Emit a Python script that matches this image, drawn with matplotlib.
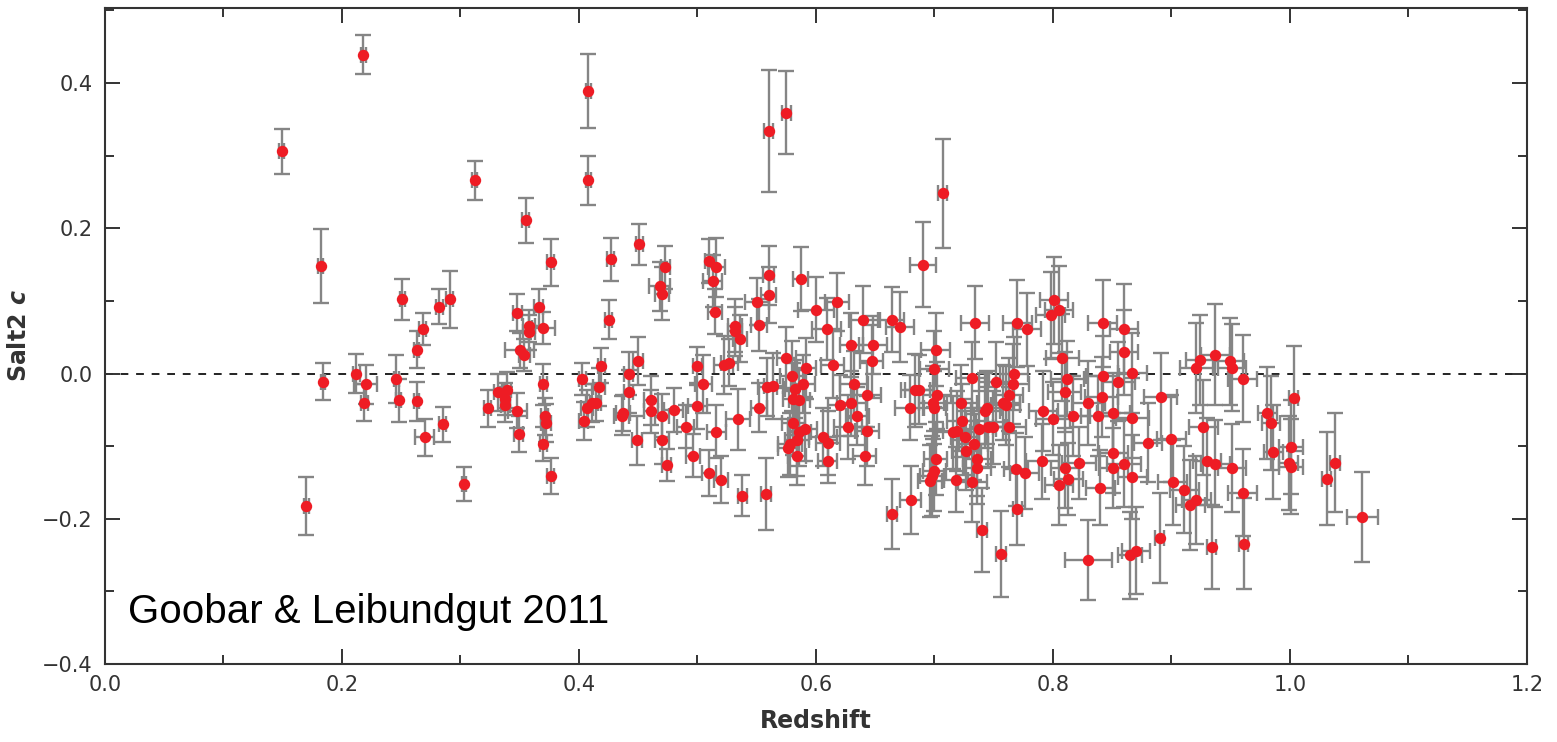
import matplotlib
matplotlib.use("Agg")
import matplotlib.pyplot as plt
from matplotlib.ticker import MultipleLocator, FuncFormatter

# Redshift (z), Salt2 colour (c), and their uncertainties
z = [0.149, 0.170, 0.182, 0.184, 0.212, 0.218, 0.219, 0.220, 0.246, 0.248,
     0.251, 0.263, 0.263, 0.268, 0.270, 0.282, 0.285, 0.291, 0.303, 0.312,
     0.323, 0.332, 0.338, 0.338, 0.339, 0.348, 0.348, 0.349, 0.350, 0.354,
     0.355, 0.358, 0.358, 0.366, 0.370, 0.370, 0.371, 0.372, 0.370, 0.376,
     0.376, 0.403, 0.404, 0.407, 0.408, 0.408, 0.411, 0.414, 0.417, 0.419,
     0.425, 0.427, 0.436, 0.437, 0.442, 0.442, 0.449, 0.450, 0.451, 0.461,
     0.461, 0.468, 0.470, 0.473, 0.470, 0.470, 0.474, 0.480, 0.490, 0.496,
     0.500, 0.500, 0.505, 0.510, 0.513, 0.516, 0.515, 0.516, 0.510, 0.520,
     0.522, 0.527, 0.532, 0.532, 0.536, 0.534, 0.538, 0.550, 0.552, 0.552,
     0.558, 0.559, 0.560, 0.560, 0.560, 0.564, 0.575, 0.575, 0.576, 0.578,
     0.580, 0.581, 0.581, 0.582, 0.584, 0.584, 0.586, 0.586, 0.587, 0.589,
     0.591, 0.592, 0.600, 0.606, 0.609, 0.610, 0.610, 0.614, 0.618, 0.620,
     0.627, 0.630, 0.630, 0.632, 0.635, 0.640, 0.641, 0.643, 0.643, 0.647,
     0.648, 0.664, 0.664, 0.671, 0.679, 0.680, 0.684, 0.687, 0.690, 0.696,
     0.698, 0.699, 0.700, 0.700, 0.700, 0.701, 0.701, 0.702, 0.707, 0.716,
     0.718, 0.719, 0.722, 0.723, 0.726, 0.727, 0.732, 0.733, 0.734, 0.736,
     0.736, 0.732, 0.738, 0.740, 0.743, 0.744, 0.745, 0.749, 0.752, 0.756,
     0.758, 0.760, 0.763, 0.763, 0.766, 0.767, 0.769, 0.770, 0.770, 0.776,
     0.778, 0.791, 0.792, 0.798, 0.800, 0.801, 0.805, 0.805, 0.808, 0.810,
     0.810, 0.812, 0.813, 0.817, 0.822, 0.830, 0.830, 0.838, 0.840, 0.841,
     0.842, 0.842, 0.851, 0.851, 0.851, 0.855, 0.860, 0.860, 0.860, 0.865,
     0.867, 0.867, 0.867, 0.870, 0.880, 0.890, 0.891, 0.900, 0.901, 0.911,
     0.916, 0.921, 0.921, 0.924, 0.927, 0.930, 0.934, 0.937, 0.937, 0.949,
     0.951, 0.951, 0.960, 0.960, 0.961, 0.981, 0.984, 0.986, 0.999, 1.001,
     1.001, 1.003, 1.031, 1.038, 1.061]

c = [0.306, -0.182, 0.148, -0.011, 0.000, 0.439, -0.040, -0.015, -0.007, -0.037,
     0.102, 0.033, -0.038, 0.061, -0.088, 0.092, -0.070, 0.102, -0.152, 0.266,
     -0.048, -0.026, -0.035, -0.043, -0.023, -0.051, 0.084, -0.083, 0.032, 0.026,
     0.211, 0.066, 0.057, 0.091, -0.015, 0.063, -0.059, -0.068, -0.097, -0.141,
     0.153, -0.008, -0.065, -0.048, 0.389, 0.266, -0.041, -0.040, -0.019, 0.011,
     0.074, 0.157, -0.058, -0.054, 0.000, -0.025, -0.092, 0.017, 0.178, -0.037,
     -0.052, 0.120, 0.110, 0.146, -0.058, -0.092, -0.126, -0.050, -0.073, -0.113,
     0.010, -0.045, -0.015, 0.155, 0.127, 0.146, 0.085, -0.080, -0.137, -0.146,
     0.012, 0.015, 0.066, 0.058, 0.048, -0.063, -0.168, 0.099, 0.067, -0.047,
     -0.166, -0.019, 0.334, 0.135, 0.108, -0.017, 0.022, 0.359, -0.102, -0.097,
     -0.003, -0.035, -0.068, -0.021, -0.091, -0.114, -0.037, -0.081, 0.130, -0.015,
     -0.076, 0.007, 0.088, -0.087, 0.061, -0.095, -0.121, 0.012, 0.099, -0.044,
     -0.074, 0.039, -0.041, -0.015, -0.059, 0.074, -0.114, -0.029, -0.079, 0.017,
     0.039, 0.074, -0.193, 0.064, -0.047, -0.174, -0.023, -0.022, 0.150, -0.148,
     -0.141, -0.040, 0.006, -0.047, -0.134, 0.033, -0.117, -0.030, 0.248, -0.081,
     -0.146, -0.079, -0.040, -0.065, -0.087, -0.106, -0.006, -0.097, 0.070, -0.117,
     -0.130, -0.150, -0.076, -0.215, -0.051, -0.047, -0.074, -0.074, -0.012, -0.248,
     -0.040, -0.044, -0.029, -0.074, -0.014, 0.000, -0.132, -0.186, 0.069, -0.137,
     0.061, -0.121, -0.052, 0.080, -0.062, 0.101, 0.088, -0.153, 0.022, -0.026,
     -0.130, -0.007, -0.145, -0.058, -0.123, -0.041, -0.257, -0.059, -0.157, -0.032,
     0.069, -0.004, -0.054, -0.109, -0.130, -0.011, 0.061, 0.029, -0.124, -0.250,
     0.001, -0.061, -0.142, -0.244, -0.095, -0.226, -0.032, -0.090, -0.150, -0.160,
     -0.181, -0.174, 0.008, 0.018, -0.074, -0.121, -0.239, 0.026, -0.124, 0.017,
     0.008, -0.130, -0.007, -0.164, -0.234, -0.054, -0.068, -0.108, -0.123, -0.101,
     -0.128, -0.034, -0.145, -0.123, -0.197]

c_err = [0.031, 0.040, 0.051, 0.025, 0.027, 0.027, 0.025, 0.027, 0.033, 0.030,
         0.028, 0.026, 0.027, 0.022, 0.025, 0.024, 0.024, 0.039, 0.023, 0.027,
         0.025, 0.025, 0.022, 0.024, 0.025, 0.024, 0.026, 0.025, 0.024, 0.022,
         0.031, 0.022, 0.024, 0.025, 0.028, 0.022, 0.025, 0.026, 0.024, 0.025,
         0.032, 0.022, 0.026, 0.025, 0.051, 0.034, 0.026, 0.025, 0.026, 0.024,
         0.027, 0.030, 0.027, 0.025, 0.030, 0.030, 0.034, 0.033, 0.028, 0.034,
         0.030, 0.034, 0.036, 0.030, 0.030, 0.032, 0.022, 0.030, 0.030, 0.030,
         0.026, 0.032, 0.040, 0.030, 0.036, 0.040, 0.031, 0.036, 0.032, 0.032,
         0.040, 0.032, 0.036, 0.034, 0.032, 0.042, 0.028, 0.032, 0.036, 0.034,
         0.050, 0.040, 0.084, 0.041, 0.038, 0.045, 0.042, 0.057, 0.040, 0.042,
         0.048, 0.050, 0.044, 0.040, 0.050, 0.040, 0.042, 0.046, 0.044, 0.040,
         0.044, 0.042, 0.045, 0.040, 0.043, 0.044, 0.030, 0.046, 0.040, 0.042,
         0.044, 0.044, 0.045, 0.046, 0.040, 0.046, 0.040, 0.044, 0.048, 0.050,
         0.040, 0.045, 0.048, 0.048, 0.045, 0.047, 0.050, 0.048, 0.058, 0.050,
         0.055, 0.050, 0.052, 0.050, 0.055, 0.050, 0.050, 0.046, 0.075, 0.050,
         0.045, 0.055, 0.052, 0.050, 0.052, 0.055, 0.050, 0.050, 0.050, 0.052,
         0.050, 0.055, 0.052, 0.058, 0.052, 0.050, 0.055, 0.050, 0.055, 0.059,
         0.052, 0.055, 0.050, 0.055, 0.055, 0.050, 0.050, 0.050, 0.060, 0.050,
         0.050, 0.052, 0.055, 0.060, 0.050, 0.060, 0.060, 0.055, 0.060, 0.055,
         0.055, 0.052, 0.050, 0.055, 0.050, 0.058, 0.055, 0.055, 0.052, 0.055,
         0.060, 0.055, 0.055, 0.055, 0.055, 0.055, 0.062, 0.058, 0.060, 0.060,
         0.055, 0.055, 0.058, 0.060, 0.055, 0.062, 0.060, 0.060, 0.058, 0.060,
         0.062, 0.060, 0.062, 0.062, 0.065, 0.060, 0.058, 0.070, 0.060, 0.060,
         0.060, 0.060, 0.060, 0.060, 0.062, 0.063, 0.065, 0.065, 0.065, 0.065,
         0.065, 0.072, 0.064, 0.068, 0.062]

z_err = [0.002, 0.002, 0.002, 0.002, 0.003, 0.002, 0.003, 0.010, 0.002, 0.002,
         0.002, 0.002, 0.002, 0.003, 0.008, 0.003, 0.003, 0.003, 0.002, 0.002,
         0.003, 0.004, 0.004, 0.004, 0.004, 0.008, 0.004, 0.004, 0.012, 0.005,
         0.003, 0.005, 0.005, 0.004, 0.003, 0.010, 0.003, 0.004, 0.003, 0.003,
         0.003, 0.003, 0.004, 0.005, 0.002, 0.002, 0.005, 0.005, 0.005, 0.003,
         0.003, 0.003, 0.006, 0.006, 0.004, 0.004, 0.004, 0.004, 0.003, 0.006,
         0.006, 0.009, 0.006, 0.004, 0.006, 0.006, 0.004, 0.008, 0.007, 0.006,
         0.004, 0.008, 0.007, 0.004, 0.008, 0.007, 0.006, 0.008, 0.006, 0.006,
         0.008, 0.007, 0.006, 0.006, 0.006, 0.010, 0.004, 0.010, 0.007, 0.007,
         0.004, 0.008, 0.004, 0.005, 0.006, 0.008, 0.008, 0.004, 0.008, 0.010,
         0.010, 0.009, 0.010, 0.008, 0.010, 0.008, 0.009, 0.010, 0.006, 0.010,
         0.010, 0.008, 0.015, 0.012, 0.012, 0.010, 0.008, 0.010, 0.010, 0.010,
         0.012, 0.010, 0.012, 0.012, 0.010, 0.012, 0.010, 0.012, 0.010, 0.010,
         0.012, 0.010, 0.004, 0.012, 0.012, 0.009, 0.012, 0.012, 0.011, 0.010,
         0.010, 0.012, 0.012, 0.010, 0.010, 0.012, 0.010, 0.012, 0.004, 0.014,
         0.010, 0.012, 0.014, 0.012, 0.012, 0.012, 0.014, 0.012, 0.012, 0.012,
         0.012, 0.012, 0.014, 0.004, 0.012, 0.012, 0.014, 0.012, 0.014, 0.004,
         0.014, 0.012, 0.012, 0.014, 0.014, 0.012, 0.010, 0.004, 0.012, 0.012,
         0.012, 0.014, 0.012, 0.012, 0.014, 0.012, 0.012, 0.012, 0.014, 0.014,
         0.012, 0.014, 0.012, 0.014, 0.014, 0.014, 0.020, 0.014, 0.012, 0.014,
         0.012, 0.014, 0.014, 0.012, 0.012, 0.014, 0.012, 0.012, 0.014, 0.010,
         0.012, 0.014, 0.012, 0.012, 0.012, 0.004, 0.014, 0.012, 0.012, 0.012,
         0.012, 0.012, 0.014, 0.012, 0.012, 0.012, 0.004, 0.012, 0.012, 0.012,
         0.012, 0.012, 0.012, 0.012, 0.004, 0.008, 0.008, 0.008, 0.008, 0.010,
         0.010, 0.004, 0.004, 0.004, 0.013]

x_ticks = [0.0, 0.2, 0.4, 0.6, 0.8, 1.0, 1.2]
y_ticks = [-0.4, -0.2, 0.0, 0.2, 0.4]
credit = "Goobar & Leibundgut 2011"


def fmt(v, pos):
    s = f"{v:.1f}"
    return s.replace("-", "\u2212")


fig = plt.figure(figsize=(15.57, 7.42), dpi=100)
ax = fig.add_axes([0.0674, 0.105, 0.9133, 0.884])

ax.errorbar(z, c, yerr=c_err, xerr=z_err, fmt='none', ecolor='#858585',
            elinewidth=1.7, capsize=5.5, capthick=1.7, zorder=2)
ax.plot(z, c, 'o', color='#ee1c24', markersize=8.2, markeredgewidth=0,
        zorder=3)

ax.axhline(0.0, color='#222222', linestyle=(0, (4, 4)), linewidth=1.4,
           zorder=1.5)

ax.set_xlim(0.0, 1.2)
ax.set_ylim(-0.4, 0.503)
ax.set_xticks(x_ticks)
ax.set_yticks(y_ticks)
ax.xaxis.set_minor_locator(MultipleLocator(0.1))
ax.yaxis.set_minor_locator(MultipleLocator(0.1))
ax.xaxis.set_major_formatter(FuncFormatter(fmt))
ax.yaxis.set_major_formatter(FuncFormatter(fmt))

ax.tick_params(which='both', direction='in', top=True, right=True,
               width=1.4, color='#333333', labelsize=15,
               labelcolor='#333333')
ax.tick_params(which='major', length=11)
ax.tick_params(axis='y', which='major', pad=9)
ax.tick_params(axis='x', which='major', pad=8)
ax.tick_params(which='minor', length=6.5)
for s in ax.spines.values():
    s.set_linewidth(1.5)
    s.set_color('#333333')

ax.set_xlabel('Redshift', fontsize=17, fontweight='bold', color='#333333',
              labelpad=10)
ax.set_ylabel(r'Salt2 $\mathbfit{c}$', fontsize=17, fontweight='bold',
              color='#333333', labelpad=8)

ax.text(0.016, 0.080, credit, transform=ax.transAxes, fontsize=29,
        family='Liberation Sans', color='black', ha='left', va='center')

fig.savefig('out.png', dpi=100)
